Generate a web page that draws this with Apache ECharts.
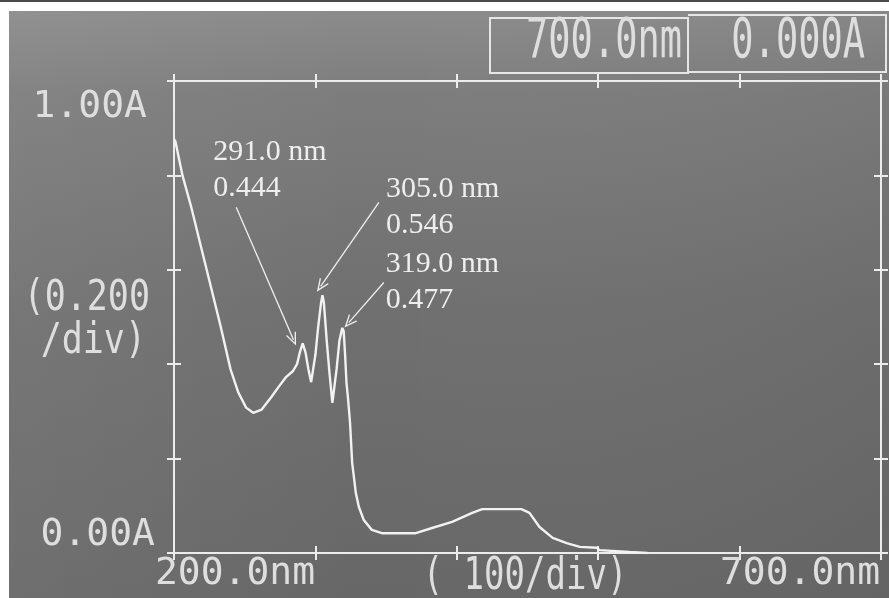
<!DOCTYPE html>
<html>
<head>
<meta charset="utf-8">
<script src="https://cdn.jsdelivr.net/npm/echarts@6/dist/echarts.min.js"></script>
<style>
  html, body { margin: 0; padding: 0; background: #ffffff; }
  #chart { width: 889px; height: 598px; }
</style>
</head>
<body>
<div id="chart"></div>
<script>
// Absorption spectrum scan, 200–700 nm
const wavelengths = [
  200, 201, 206, 212, 219, 226, 233, 240, 245.5, 251, 256, 262, 269, 274, 279, 284,
  287, 289, 291, 293, 295, 297, 298, 300, 302, 304, 305, 306, 308, 310, 312, 313,
  315, 317, 319, 320, 321, 322, 323, 324.5, 326, 328.6, 330.7, 334.2, 339.9, 347,
  371, 382.5, 396.7, 410.9, 418, 445.7, 451.4, 458.5, 467.8, 477.7, 487, 499, 501,
  522, 535
];
const absorbance = [
  0.877, 0.872, 0.800, 0.735, 0.650, 0.565, 0.480, 0.389, 0.340, 0.308, 0.297, 0.304,
  0.331, 0.352, 0.372, 0.385, 0.400, 0.425, 0.444, 0.425, 0.390, 0.362, 0.365, 0.420,
  0.480, 0.530, 0.546, 0.530, 0.450, 0.380, 0.318, 0.320, 0.390, 0.450, 0.477, 0.470,
  0.420, 0.360, 0.330, 0.276, 0.191, 0.127, 0.098, 0.070, 0.049, 0.042, 0.042, 0.053,
  0.066, 0.085, 0.093, 0.093, 0.085, 0.055, 0.032, 0.021, 0.013, 0.011, 0.006, 0.002,
  0.000
];

// Marked peaks
const peakWavelengths = [291.0, 305.0, 319.0];
const peakAbsorbance = [0.444, 0.546, 0.477];

// Screen texts
const xTickLabels = ['200.0nm', '700.0nm'];
const yTickLabels = ['0.00A', '1.00A'];
const xScaleText = '( 100/div)';
const yScaleText = ['(0.200', '/div)'];
const readoutTexts = ['700.0nm', '0.000A'];

const screenText = '#dedede';
const frameColor = '#ececec';
const traceColor = '#f2f2f2';
const monoFont = 'DejaVu Sans Mono';

const chart = echarts.init(document.getElementById('chart'), null, { renderer: 'canvas' });

// The frame comes from the grid border; each axis only carries ticks,
// pulled inward by half their length so they straddle the frame line.
const tickLen = 14;
function axisDef(position, range, labels) {
  return {
    type: 'value',
    position,
    offset: -tickLen / 2,
    min: range[0], max: range[1], interval: range[2],
    axisLine: { show: false, onZero: false },
    axisTick: { show: true, inside: false, length: tickLen, lineStyle: { color: frameColor, width: 2 } },
    axisLabel: labels || { show: false },
    splitLine: { show: false }
  };
}
const xRange = [200, 700, 100];
const yRange = [0, 1, 0.2];

const xLabels = {
  show: true,
  margin: 2 + tickLen / 2,
  color: screenText,
  fontFamily: monoFont,
  fontSize: 38,
  formatter: v => v === 200 ? '{lo|' + xTickLabels[0] + '}' : (v === 700 ? '{hi|' + xTickLabels[1] + '}' : ''),
  rich: {
    lo: { fontFamily: monoFont, fontSize: 38, color: screenText, padding: [0, 0, 0, 122] },
    hi: { fontFamily: monoFont, fontSize: 38, color: screenText, padding: [0, 162, 0, 0] }
  }
};
const yLabels = {
  show: true,
  margin: 19 + tickLen / 2,
  color: screenText,
  fontFamily: monoFont,
  fontSize: 38,
  formatter: v => v === 1 ? '{top|' + yTickLabels[1] + '}' : (v === 0 ? '{bot|' + yTickLabels[0] + '}' : ''),
  rich: {
    top: { fontFamily: monoFont, fontSize: 38, color: screenText, padding: [52, 8, 0, 0] },
    bot: { fontFamily: monoFont, fontSize: 38, color: screenText, padding: [0, 0, 36, 0] }
  }
};

// Peak annotation offsets (pixels from each peak)
const peakLabelOffsets = [[-89, -209], [64, -124], [44, -81]];

// Open chevron arrowhead
const chevron = 'path://M0,12 L6,0 L12,12 L10.4,12 L6,3.2 L1.6,12 Z';

const option = {
  backgroundColor: '#ffffff',
  animation: false,
  grid: {
    left: 174, right: 8, top: 81, bottom: 45,
    show: true, borderColor: frameColor, borderWidth: 2, backgroundColor: 'transparent',
    containLabel: false, outerBoundsMode: 'none'
  },
  xAxis: [
    axisDef('bottom', xRange, xLabels),
    axisDef('top', xRange)
  ],
  yAxis: [
    axisDef('left', yRange, yLabels),
    axisDef('right', yRange)
  ],
  graphic: [
    { type: 'rect', z: -20, silent: true, shape: { x: 9, y: 11, width: 880, height: 587 },
      style: { fill: new echarts.graphic.LinearGradient(0, 0, 0, 1, [
        { offset: 0, color: '#8b8b8b' },
        { offset: 0.14, color: '#7d7d7d' },
        { offset: 0.5, color: '#707070' },
        { offset: 1, color: '#676767' }
      ]) } },
    { type: 'rect', z: -19, silent: true, shape: { x: 9, y: 11, width: 880, height: 587 },
      style: { fill: new echarts.graphic.LinearGradient(0, 0, 1, 0, [
        { offset: 0, color: 'rgba(255,255,255,0.05)' },
        { offset: 0.4, color: 'rgba(255,255,255,0)' },
        { offset: 1, color: 'rgba(0,0,0,0.03)' }
      ]) } },
    { type: 'rect', z: -18, silent: true, shape: { x: 0, y: 0, width: 889, height: 2 }, style: { fill: '#4a4a4a' } },
    // readout boxes
    { type: 'rect', z: 5, silent: true, shape: { x: 490, y: 18, width: 198, height: 55 },
      style: { fill: 'none', stroke: '#e6e6e6', lineWidth: 2 } },
    { type: 'polyline', z: 5, silent: true, shape: { points: [[688, 15], [886, 15], [886, 72], [688, 72]] },
      style: { fill: 'none', stroke: '#e6e6e6', lineWidth: 2 } },
    { type: 'text', z: 6, silent: true, x: 682, y: 43, scaleY: 1.5,
      style: { text: readoutTexts[0], font: '37px ' + monoFont, fill: screenText, align: 'right', verticalAlign: 'middle' } },
    { type: 'text', z: 6, silent: true, x: 865, y: 43, scaleY: 1.5,
      style: { text: readoutTexts[1], font: '37px ' + monoFont, fill: screenText, align: 'right', verticalAlign: 'middle' } },
    // axis scale captions
    { type: 'text', z: 6, silent: true, x: 150, y: 299, scaleY: 1.2,
      style: { text: yScaleText[0], font: '35px ' + monoFont, fill: screenText, align: 'right', verticalAlign: 'middle' } },
    { type: 'text', z: 6, silent: true, x: 146, y: 342, scaleY: 1.2,
      style: { text: yScaleText[1], font: '35px ' + monoFont, fill: screenText, align: 'right', verticalAlign: 'middle' } },
    { type: 'text', z: 6, silent: true, x: 525, y: 578, scaleY: 1.3,
      style: { text: xScaleText, font: '34px ' + monoFont, fill: screenText, align: 'center', verticalAlign: 'middle' } }
  ],
  series: [
    {
      type: 'line',
      xAxisIndex: 0,
      yAxisIndex: 0,
      data: wavelengths.map((w, i) => [w, absorbance[i]]),
      showSymbol: false,
      smooth: false,
      lineStyle: { color: traceColor, width: 2.4 },
      z: 3,
      markPoint: {
        silent: true,
        symbol: 'circle',
        symbolSize: 1,
        itemStyle: { color: 'rgba(0,0,0,0)' },
        data: peakWavelengths.map((w, i) => ({
          coord: [w, peakAbsorbance[i]],
          value: peakAbsorbance[i],
          label: {
            show: true,
            position: peakLabelOffsets[i],
            align: 'left',
            verticalAlign: 'top',
            fontFamily: 'Liberation Serif',
            fontSize: 30,
            lineHeight: 36,
            color: '#eeeeee',
            formatter: () => w.toFixed(1) + ' nm\n' + peakAbsorbance[i].toFixed(3)
          }
        }))
      },
      markLine: {
        silent: true,
        symbol: ['none', chevron],
        symbolSize: [11, 13],
        label: { show: false },
        lineStyle: { color: '#f0f0f0', width: 1.3, type: 'solid' },
        emphasis: { disabled: true },
        data: [
          [{ coord: [244.0, 0.7325] }, { coord: [284.5, 0.452] }],
          [{ coord: [344.9, 0.743] }, { coord: [303.7, 0.565] }],
          [{ coord: [348.4, 0.573] }, { coord: [323.6, 0.488] }]
        ]
      }
    }
  ]
};

chart.setOption(option);
</script>
</body>
</html>
